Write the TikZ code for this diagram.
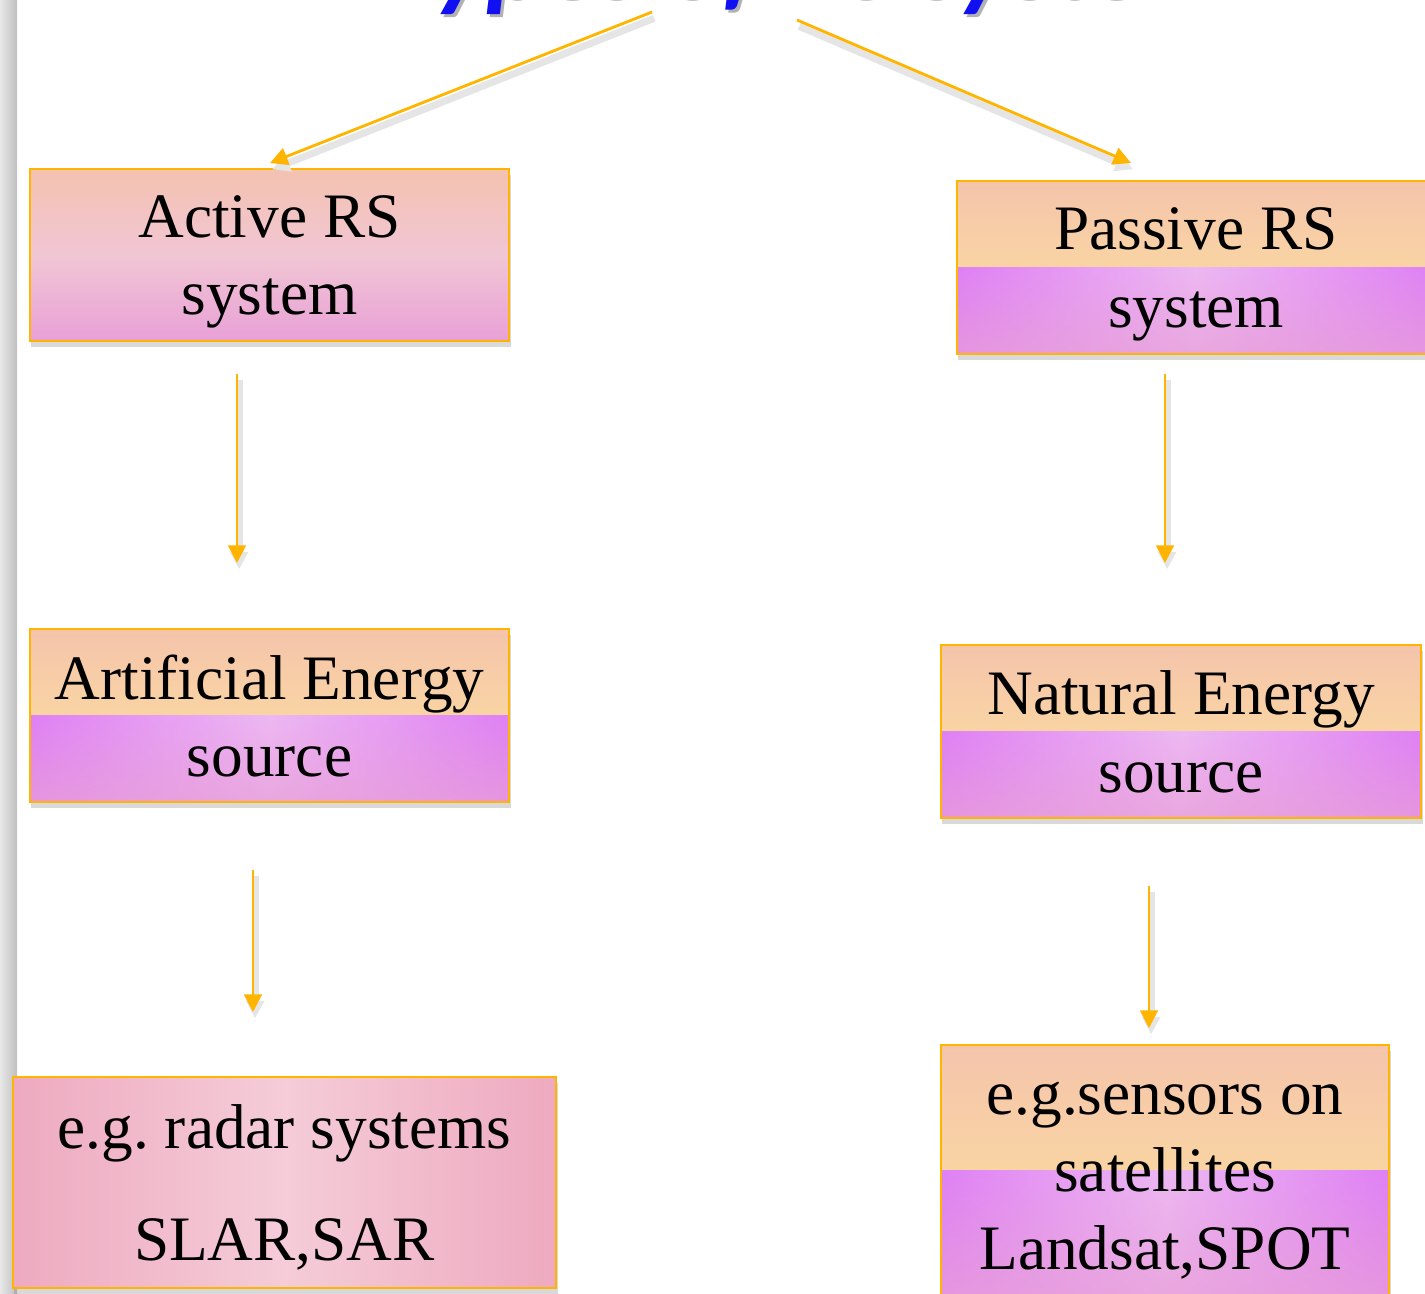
\documentclass[tikz,border=0pt]{standalone}
\usepackage{fontspec}
\setmainfont{Liberation Serif}
\newfontfamily\titlefont{Carlito}
\usetikzlibrary{arrows.meta,shadows,fadings}
\frenchspacing

\definecolor{boxline}{HTML}{FFB400}
\definecolor{peach}{HTML}{F5C4AC}
\definecolor{sun}{HTML}{FDE49A}
\definecolor{violetedge}{HTML}{DF80F5}
\definecolor{lilac}{HTML}{EDB8F3}
\definecolor{pinkbottom}{HTML}{E8A0D6}
\definecolor{rosetop}{HTML}{F4C2B0}
\definecolor{rosemid}{HTML}{F1C6D4}
\definecolor{radaredge}{HTML}{EEAAC0}
\definecolor{radarmid}{HTML}{F5CCD8}
\definecolor{titleblue}{HTML}{1010F0}

\tikzstyle{box}=[rectangle,draw=boxline,line width=0.7pt,align=center,
  inner sep=0pt,font=\fontsize{18}{22}\selectfont,text depth=0pt,
  drop shadow={shadow xshift=0.4pt,shadow yshift=-1.8pt,opacity=0.3}]
\tikzstyle{rosebox}=[box,top color=rosetop,bottom color=pinkbottom,middle color=rosemid]
\tikzstyle{radarbox}=[box,left color=radaredge,right color=radaredge,middle color=radarmid]
\tikzstyle{twotone}=[box,path picture={
    \shade[top color=peach,bottom color=sun]
      (path picture bounding box.north west) rectangle (path picture bounding box.east);
    \shade[left color=violetedge,right color=violetedge,middle color=lilac]
      (path picture bounding box.west) rectangle (path picture bounding box.south east);
    \fill[pinkbottom,path fading=north,opacity=0.7]
      (path picture bounding box.west) rectangle (path picture bounding box.south east);
  }]
\tikzstyle{link}=[draw=boxline,line width=0.8pt,-{Triangle[width=5pt,length=5pt]},
  preaction={draw=black!10,line width=2pt,transform canvas={shift={(0.6pt,-1.8pt)}}}]
\tikzstyle{title}=[font=\titlefont\bfseries\itshape\fontsize{31}{33}\selectfont,anchor=base]

\begin{document}
\begin{tikzpicture}[x=0.01cm,y=-0.01cm]
  \useasboundingbox (0,0) rectangle (1425,1293);
  \shade[left color=gray!18,right color=gray!50] (0,0) rectangle (17,1293);

  \node[title,text=black!30] (title shadow) at (810,0) {Types of RS system};
  \node[title,text=titleblue] (title) at (807,-3) {Types of RS system};

  \node[rosebox,minimum width=4.79cm,minimum height=1.72cm] (active rs)
    at (269.5,255) {Active RS\\system};
  \node[twotone,minimum width=4.78cm,minimum height=1.73cm] (passive rs)
    at (1196,267.5) {Passive RS\\system};

  \node[twotone,minimum width=4.79cm,minimum height=1.73cm] (active source)
    at (269.5,715.5) {Artificial Energy\\source};
  \node[twotone,minimum width=4.80cm,minimum height=1.73cm] (passive source)
    at (1181,731.5) {Natural Energy\\source};

  \node[radarbox,minimum width=5.43cm,minimum height=2.11cm] (active example)
    at (284.5,1182.5) {e.g. radar systems\\[10pt]SLAR,SAR};
  \node[twotone,minimum width=4.48cm,minimum height=2.50cm,text height=56.3pt]
    (passive example) at (1165,1170) {e.g.sensors on\\satellites\\Landsat,SPOT};

  % arrow ends
  \coordinate (t1) at (652,12);
  \coordinate (t2) at (797,20);
  \coordinate (a1) at (270,163);
  \coordinate (p1) at (1131,163);
  \foreach \n/\x/\ya/\yb in {a2/237/374/563, p2/1165/374/563,
                             a3/253/870/1012, p3/1149/886/1028} {
    \coordinate (\n s) at (\x,\ya);
    \coordinate (\n e) at (\x,\yb);
  }

  \draw[link] (t1) -- (a1);
  \draw[link] (t2) -- (p1);
  \foreach \n in {a2, p2, a3, p3}
    \draw[link] (\n s) -- (\n e);
\end{tikzpicture}
\end{document}
